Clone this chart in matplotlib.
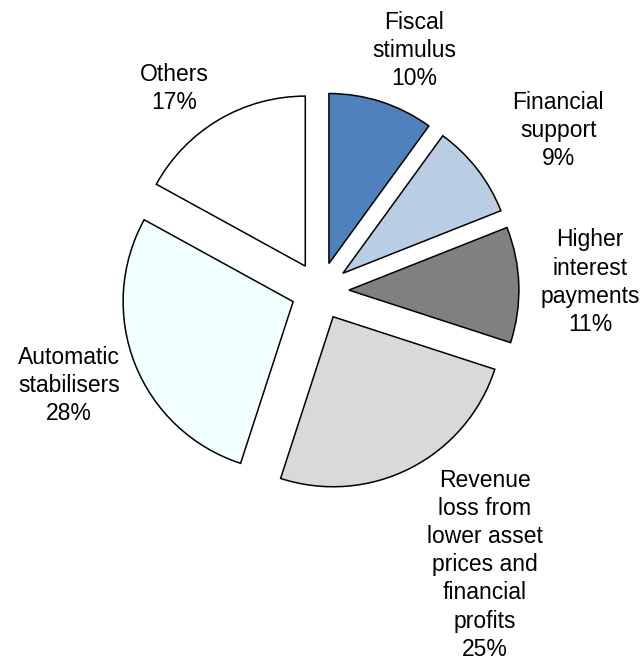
import numpy as np
import matplotlib
matplotlib.use('Agg')
import matplotlib.pyplot as plt

plt.rcParams['font.family'] = ['Liberation Sans', 'DejaVu Sans']

labels = ['Fiscal\nstimulus', 'Financial\nsupport', 'Higher\ninterest\npayments',
          'Revenue\nloss from\nlower asset\nprices and\nfinancial\nprofits',
          'Automatic\nstabilisers', 'Others']
shares = [10, 9, 11, 25, 28, 17]
colors = ['#4F81BD', '#B9CDE5', '#808080', '#D9D9D9', '#F2FFFF', '#FFFFFF']

# label spots, (radius, angle in degrees) around pie centre
label_pos = [(1.52, 68.7), (1.69, 34.0), (1.59, 1.9), (1.88, -59.0), (1.58, 200.7), (1.47, 125.7)]

fig = plt.figure(figsize=(6.44, 6.66), dpi=100)
ax = fig.add_axes([0, 0, 1, 1])

ax.pie(shares, colors=colors, startangle=90, counterclock=False,
       explode=[0.17] * len(shares), radius=1.0,
       wedgeprops=dict(edgecolor='black', linewidth=1.1))

for lab, s, (r, a) in zip(labels, shares, label_pos):
    x = r * np.cos(np.radians(a))
    y = r * np.sin(np.radians(a))
    ax.text(x, y, '%s\n%d%%' % (lab, s), ha='center', va='center',
            fontsize=16.5, linespacing=1.28)

cx, cy = 320, 291
ax.set_xlim(-cx / 170, (644 - cx) / 170)
ax.set_ylim(-(666 - cy) / 170, cy / 170)
ax.set_aspect('equal')
ax.axis('off')

fig.savefig('out.png', dpi=100)
